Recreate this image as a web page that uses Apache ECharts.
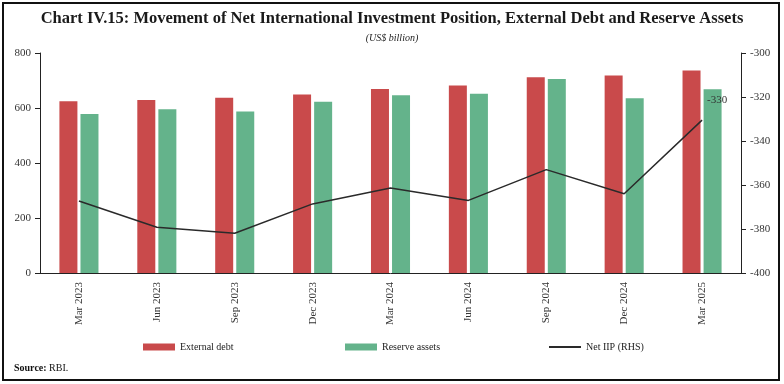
<!DOCTYPE html>
<html><head><meta charset="utf-8">
<script src="https://cdn.jsdelivr.net/npm/echarts@6/dist/echarts.min.js"></script>
<style>html,body{margin:0;padding:0;background:#fff}#c{width:784px;height:384px}</style>
</head><body><div id="c"></div>
<script>
const categories = ['Mar 2023','Jun 2023','Sep 2023','Dec 2023','Mar 2024','Jun 2024','Sep 2024','Dec 2024','Mar 2025'];
const externalDebt = [624.7, 629.1, 637.6, 648.7, 668.8, 682.2, 711.8, 717.9, 736.3];
const reserveAssets = [578.4, 595.1, 587.0, 622.5, 646.4, 651.9, 705.8, 635.7, 668.3];
const netIIP = [-367.3, -379.2, -381.9, -368.6, -361.4, -367.0, -353.0, -364.0, -330.5];
const leftTicks = {min: 0, max: 800, interval: 200};
const rightTicks = {min: -400, max: -300, interval: 20};

const FONT = 'Liberation Serif';
const chart = echarts.init(document.getElementById('c'), null, {renderer: 'canvas'});
const iipData = netIIP.map((v, i) => i === netIIP.length - 1
  ? {value: v, label: {show: true, position: 'top', offset: [15, -9], formatter: '-330', color: '#333', fontFamily: FONT, fontSize: 11}}
  : v);
const legendText = {fontFamily: FONT, fontSize: 10, color: '#222'};
chart.setOption({
  animation: false,
  textStyle: {fontFamily: FONT},
  title: [
    {text: 'Chart IV.15: Movement of Net International Investment Position, External Debt and Reserve Assets',
     left: 'center', top: 10, padding: 0, textStyle: {fontFamily: FONT, fontWeight: 'bold', fontSize: 16.5, color: '#1a1a1a'}},
    {text: '(US$ billion)', left: 'center', top: 33, padding: 0, textStyle: {fontFamily: FONT, fontStyle: 'italic', fontWeight: 'normal', fontSize: 10, color: '#222'}}
  ],
  graphic: [
    {type: 'rect', shape: {x: 3, y: 3, width: 776, height: 377}, style: {fill: 'none', stroke: '#111', lineWidth: 2}, silent: true},
    {type: 'text', left: 14, top: 363, style: {text: '{b|Source:} RBI.', rich: {b: {fontWeight: 'bold', fontFamily: FONT, fontSize: 10, fill: '#111'}}, fontFamily: FONT, fontSize: 10, fill: '#111'}}
  ],
  legend: [
    {data: [{name: 'External debt', icon: 'rect'}], left: 143, top: 342, padding: 0, itemWidth: 32, itemHeight: 7, textStyle: legendText},
    {data: [{name: 'Reserve assets', icon: 'rect'}], left: 345, top: 342, padding: 0, itemWidth: 32, itemHeight: 7, textStyle: legendText},
    {data: [{name: 'Net IIP (RHS)', icon: 'rect'}], left: 549, top: 342, padding: 0, itemWidth: 32, itemHeight: 2, textStyle: legendText}
  ],
  grid: {left: 40, right: 43, top: 53, bottom: 111},
  xAxis: {
    type: 'category', data: categories, boundaryGap: true,
    axisLine: {lineStyle: {color: '#222', width: 1}},
    axisTick: {alignWithLabel: true, length: 5, lineStyle: {color: '#222'}},
    axisLabel: {rotate: 90, fontFamily: FONT, fontSize: 11, color: '#333', margin: 9}
  },
  yAxis: [
    {type: 'value', ...leftTicks, position: 'left',
     axisLine: {show: true, lineStyle: {color: '#222'}},
     axisTick: {show: true, length: 5, lineStyle: {color: '#222'}},
     splitLine: {show: false},
     axisLabel: {fontFamily: FONT, fontSize: 11, color: '#333', margin: 9}},
    {type: 'value', ...rightTicks, position: 'right',
     axisLine: {show: true, lineStyle: {color: '#222'}},
     axisTick: {show: true, length: 5, lineStyle: {color: '#222'}},
     splitLine: {show: false},
     axisLabel: {fontFamily: FONT, fontSize: 11, color: '#333', margin: 9}}
  ],
  series: [
    {name: 'External debt', type: 'bar', data: externalDebt, barWidth: 18, barGap: '17%', itemStyle: {color: '#C94A4B'}},
    {name: 'Reserve assets', type: 'bar', data: reserveAssets, barWidth: 18, itemStyle: {color: '#64B38B'}},
    {name: 'Net IIP (RHS)', type: 'line', yAxisIndex: 1, data: iipData, z: 5,
     symbol: 'circle', symbolSize: 0, showSymbol: true,
     lineStyle: {color: '#2a2a2a', width: 1.5}, itemStyle: {color: '#2a2a2a'}}
  ]
});
</script></body></html>
